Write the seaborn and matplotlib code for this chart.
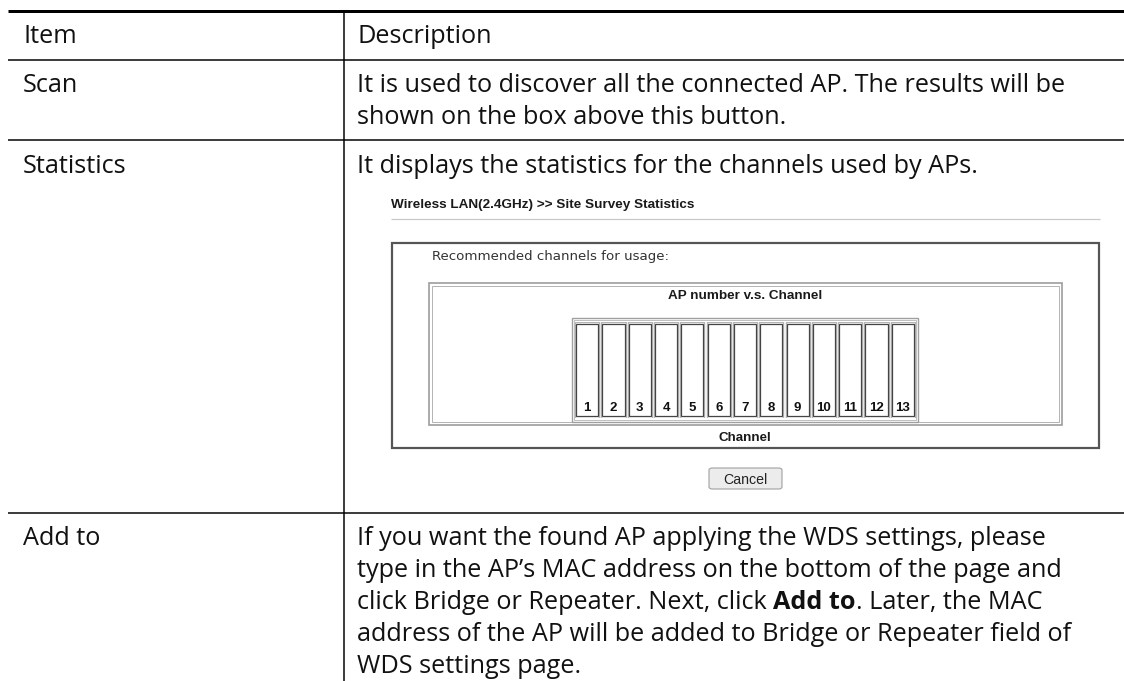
import numpy as np
import pandas as pd
import seaborn as sns
import matplotlib.pyplot as plt
from matplotlib.lines import Line2D
from matplotlib.patches import Rectangle, FancyBboxPatch

# %% Data
W, H = 1124, 681
header = ["Item", "Description"]
items = ["Scan", "Statistics", "Add to"]
scan_desc = ["It is used to discover all the connected AP. The results will be",
             "shown on the box above this button."]
stats_desc = ["It displays the statistics for the channels used by APs."]
addto_desc = ["If you want the found AP applying the WDS settings, please",
              "type in the AP\u2019s MAC address on the bottom of the page and",
              ["click Bridge or Repeater. Next, click ", "Add to", ". Later, the MAC"],
              "address of the AP will be added to Bridge or Repeater field of",
              "WDS settings page."]
page_title = "Wireless LAN(2.4GHz) >> Site Survey Statistics"
recommend = "Recommended channels for usage:"
chart_title = "AP number v.s. Channel"
chart_xlabel = "Channel"
button = "Cancel"
channels = [str(c) for c in range(1, 14)]
ap_count = [0] * 13

# %% Setup
sns.set_theme(style="white")
plt.rcParams['font.family'] = ['Open Sans', 'DejaVu Sans']
fig = plt.figure(figsize=(W / 100, H / 100), dpi=100)
renderer = fig.canvas.get_renderer()


def fx(x):
    return x / W


def fy(y):
    return 1 - y / H


def hline(x0, x1, y, px=1.5, color='black'):
    fig.add_artist(Line2D([fx(x0), fx(x1)], [fy(y), fy(y)],
                          lw=px * 0.72, color=color, solid_capstyle='butt'))


def vline(x, y0, y1, px=1.5, color='black'):
    fig.add_artist(Line2D([fx(x), fx(x)], [fy(y0), fy(y1)],
                          lw=px * 0.72, color=color, solid_capstyle='butt'))


def box(x0, y0, x1, y1, px=1.0, color='#888888'):
    fig.add_artist(Rectangle((fx(x0), fy(y1)), fx(x1) - fx(x0), fy(y0) - fy(y1),
                             fill=False, lw=px * 0.72, edgecolor=color))


def fit(t, width):
    bb = t.get_window_extent(renderer)
    t.set_fontsize(t.get_fontsize() * width / bb.width)
    return t.get_fontsize()


def txt(x, y, s, size, **kw):
    return fig.text(fx(x), fy(y), s, fontsize=size, va='baseline',
                    color='#111111', **kw)


# %% Main table
probe = txt(357, 92, scan_desc[0], 15)
fs = fit(probe, 711)

hline(8, W, 11, px=3)
hline(8, W, 60)
hline(8, W, 140)
hline(8, W, 513)
vline(344, 12, H)

txt(23, 43, header[0], fs)
txt(357, 43, header[1], fs)
txt(23, 92, items[0], fs)
txt(357, 124, scan_desc[1], fs)
txt(23, 173, items[1], fs)
txt(357, 173, stats_desc[0], fs)
txt(23, 545, items[2], fs)
for i, line in enumerate(addto_desc):
    y = 545 + 32 * i
    if isinstance(line, list):
        x = 357
        for j, seg in enumerate(line):
            t = txt(x, y, seg, fs, fontweight='bold' if j == 1 else 'normal')
            x = t.get_window_extent(renderer).x1
    else:
        txt(357, y, line, fs)

# %% Embedded screenshot
t = fig.text(fx(391), fy(208), page_title, fontsize=9, fontweight='bold',
             family=['Liberation Sans'], va='baseline', color='#1a1a1a')
fit(t, 302)
hline(391, 1100, 219, px=1.2, color='#c8c8c8')
box(392, 243, 1099, 448, px=2.2, color='#555555')
t = fig.text(fx(432), fy(260), recommend, fontsize=9, family=['DejaVu Sans'],
             va='baseline', color='#333333')
fit(t, 238)

# inner chart frame (double line)
box(429, 283, 1062, 425, px=1.6, color='#999999')
box(432, 286, 1059, 422, px=1.0, color='#b5b5b5')
t = fig.text(fx(745), fy(299), chart_title, fontsize=9, fontweight='bold',
             family=['Liberation Sans'], va='baseline', ha='center', color='#1a1a1a')
fit(t, 154)
t = fig.text(fx(745), fy(441), chart_xlabel, fontsize=9, fontweight='bold',
             family=['Liberation Sans'], va='baseline', ha='center', color='#1a1a1a')
fit(t, 53)

# bar area frame
box(572, 318, 918, 422, px=1.4, color='#a0a0a0')
box(574, 320, 916, 420, px=1.0, color='#c0c0c0')

# %% Bar chart
ax = fig.add_axes([fx(574), fy(418), fx(916) - fx(574), fy(322) - fy(418)])
df = pd.DataFrame({'Channel': channels, 'AP': ap_count})
pos = np.arange(len(channels))
ax.bar(pos, 1.0, width=0.92, fill=False, edgecolor='#b4b4b4', lw=1.0)
ax.bar(pos, 0.96, bottom=0.02, width=0.84, fill=False, edgecolor='#444444', lw=0.9)
sns.barplot(data=df, x='Channel', y='AP', color='#3366cc', width=0.84, ax=ax)
cont = ax.containers[-1]
ax.bar_label(cont, labels=channels, padding=3, fontsize=9.5, fontweight='bold',
             family=['Liberation Sans'], color='#111111')
ax.set_xlim(-0.5, len(channels) - 0.5)
ax.set_ylim(0, 1)
ax.set_axis_off()

# %% Cancel button
fig.add_artist(FancyBboxPatch((fx(709), fy(489)), fx(782) - fx(709), fy(468) - fy(489),
                              boxstyle='round,pad=0,rounding_size=0.003',
                              facecolor='#ececec', edgecolor='#a0a0a0', lw=0.8))
t = fig.text(fx(745), fy(484), button, fontsize=9, family=['Liberation Sans'],
             va='baseline', ha='center', color='#222222')
fit(t, 44)

plt.savefig("out.png", dpi=100)
plt.close()
